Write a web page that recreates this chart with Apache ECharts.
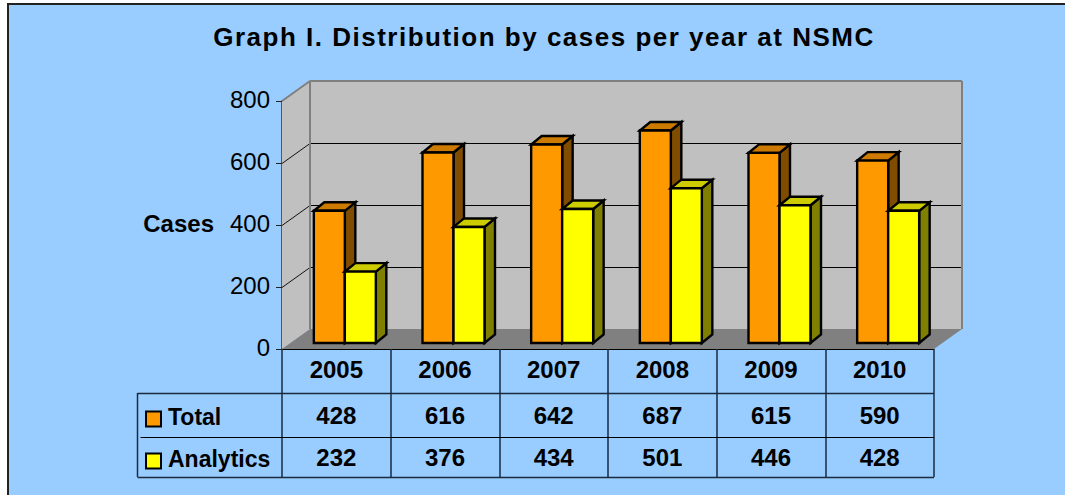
<!DOCTYPE html>
<html>
<head>
<meta charset="utf-8">
<style>
html,body{margin:0;padding:0;background:#fff}
#c{width:1065px;height:495px}
#c svg text[style*="26px"]{letter-spacing:1.5px}
</style>
<script src="https://cdn.jsdelivr.net/npm/echarts@6/dist/echarts.min.js"></script>
</head>
<body>
<div id="c"></div>
<script>
var titleText = 'Graph I. Distribution by cases per year at NSMC';
var yAxisName = 'Cases';
var years = ['2005','2006','2007','2008','2009','2010'];
var total = [428,616,642,687,615,590];
var analytics = [232,376,434,501,446,428];
var yTicks = [0,200,400,600,800];
var FONT = '"Liberation Sans", Arial, sans-serif';

var DEPTH_X = 28, DEPTH_Y = 20;     // projected depth of the floor
var BAR_SHIFT_X = 8.5, BAR_SHIFT_Y = 6; // bars sit a little behind the front edge
var BAR_W = 31, BAR_DX = 10.5, BAR_DY = 8.5;
var ROW_TOP = 393, ROW_MID = 437, ROW_BOTTOM = 477, TABLE_LEFT = 137.5;

function poly(points, fill, stroke, lw) {
  return {type:'polygon', shape:{points:points}, style:{fill:fill, stroke:stroke||null, lineWidth:lw||0, lineJoin:'miter'}};
}
function seg(x1,y1,x2,y2,color,lw) {
  return {type:'line', shape:{x1:x1,y1:y1,x2:x2,y2:y2}, style:{stroke:color, lineWidth:lw||1}};
}
function renderWalls(params, api) {
  var g = params.coordSys, L = g.x, R = g.x + g.width, T = g.y, B = g.y + g.height;
  var c = [
    poly([[L,B],[L+DEPTH_X,B-DEPTH_Y],[L+DEPTH_X,T-DEPTH_Y],[L,T]], '#C0C0C0'),
    poly([[L+DEPTH_X,B-DEPTH_Y],[R+DEPTH_X,B-DEPTH_Y],[R+DEPTH_X,T-DEPTH_Y],[L+DEPTH_X,T-DEPTH_Y]], '#C0C0C0')
  ];
  yTicks.forEach(function (v) {
    if (v === 0 || v === 800) return;
    var y = Math.round(api.coord([0, v])[1]) + 0.5;
    c.push(seg(L,y,L+DEPTH_X,y-DEPTH_Y,'#111',1));
    c.push(seg(L+DEPTH_X,y-DEPTH_Y,R+DEPTH_X,y-DEPTH_Y,'#000',1));
  });
  c.push(poly([[L,B],[R,B],[R+DEPTH_X,B-DEPTH_Y],[L+DEPTH_X,B-DEPTH_Y]], '#808080'));
  c.push(seg(L+DEPTH_X,B-DEPTH_Y,L+DEPTH_X,T-DEPTH_Y,'#808080',2));
  c.push(seg(L+DEPTH_X,T-DEPTH_Y,R+DEPTH_X,T-DEPTH_Y,'#808080',2));
  c.push(seg(R+DEPTH_X,T-DEPTH_Y,R+DEPTH_X,B-DEPTH_Y,'#808080',2));
  c.push(seg(L,T,L+DEPTH_X,T-DEPTH_Y,'#808080',2));
  return {type:'group', children:c};
}
function barRenderer(offsetIndex, front, top, side) {
  return function (params, api) {
    var base = api.coord([api.value(0), 0]);
    var head = api.coord([api.value(0), api.value(1)]);
    var x0 = base[0] + BAR_SHIFT_X + offsetIndex * BAR_W, x1 = x0 + BAR_W;
    var y0 = base[1] - BAR_SHIFT_Y, y1 = head[1] - BAR_SHIFT_Y + 0.5;
    return {type:'group', children:[
      poly([[x1,y0],[x1+BAR_DX,y0-BAR_DY],[x1+BAR_DX,y1-BAR_DY],[x1,y1]], side, '#000', 2.4),
      poly([[x0,y1],[x1,y1],[x1+BAR_DX,y1-BAR_DY],[x0+BAR_DX,y1-BAR_DY]], top, '#000', 2.4),
      poly([[x0,y0],[x1,y0],[x1,y1],[x0,y1]], front, '#000', 2.4)
    ]};
  };
}
function renderTable(params, api) {
  var i = api.value(0), x = api.coord([i, 0])[0];
  var g = params.coordSys, R = g.x + g.width;
  var font = 'bold 24px ' + FONT;
  function t(s, y) {
    return {type:'text', style:{text:String(s), x:x, y:y, align:'center', verticalAlign:'middle', font:font, fill:'#000'}};
  }
  var c = [t(years[i],369.5), t(total[i],415.5), t(analytics[i],457.5)];
  if (i === 0) {
    c.push(seg(TABLE_LEFT,ROW_TOP+.5,R,ROW_TOP+.5,'#1a2a40',1.5));
    c.push(seg(TABLE_LEFT+3,ROW_MID+.5,R,ROW_MID+.5,'#000',1));
    c.push(seg(TABLE_LEFT,ROW_BOTTOM+.5,R,ROW_BOTTOM+.5,'#1a2a40',1.5));
    c.push(seg(TABLE_LEFT,ROW_TOP,TABLE_LEFT,ROW_BOTTOM,'#1a2a40',1.5));
  }
  return {type:'group', children:c};
}
function pairs(arr){ return arr.map(function(v,i){return [i,v];}); }

var chart = echarts.init(document.getElementById('c'), null, {renderer:'svg'});
chart.setOption({
  animation:false,
  backgroundColor:'#fff',
  graphic:[{type:'rect', z:-10, silent:true, shape:{x:8,y:4,width:1200,height:700},
    style:{fill:'#99CCFF', stroke:'#222', lineWidth:2}}],
  title:{text:titleText, left:539, top:19, textAlign:'center',
    textStyle:{fontFamily:FONT, fontWeight:'bold', fontSize:26, color:'#000'}},
  legend:{orient:'vertical', left:145, top:405, itemWidth:15, itemHeight:15, itemGap:19, padding:0,
    selectedMode:false, data:['Total','Analytics'], icon:'rect',
    itemStyle:{borderColor:'#000', borderWidth:2},
    formatter:'{n|{name}}',
    textStyle:{fontFamily:FONT, fontWeight:'bold', fontSize:23, color:'#000',
      rich:{n:{fontFamily:FONT, fontWeight:'bold', fontSize:23, color:'#000', padding:[0,0,5,2]}}}},
  grid:{left:282, top:101, width:652, height:248, containLabel:false},
  xAxis:{type:'category', data:years, boundaryGap:true,
    axisLine:{show:true, onZero:false, lineStyle:{color:'#000', width:1}},
    axisTick:{show:true, length:128, lineStyle:{color:'#1a2a40', width:1.5}},
    axisLabel:{show:false}, splitLine:{show:false}},
  yAxis:{type:'value', min:0, max:800, interval:200,
    name:'{b|' + yAxisName + '}', nameLocation:'middle', nameRotate:0, nameGap:68,
    nameTextStyle:{fontFamily:FONT, fontWeight:'bold', fontSize:24, color:'#000',
      rich:{b:{fontFamily:FONT, fontWeight:'bold', fontSize:24, color:'#000', padding:[0,0,4,0]}}},
    axisLine:{show:true, lineStyle:{color:'#333', width:1.5}},
    axisTick:{show:true, length:6, lineStyle:{color:'#222', width:1}},
    axisLabel:{fontFamily:FONT, fontSize:24, color:'#000', margin:12, formatter:'{a|{value}}',
      rich:{a:{fontFamily:FONT, fontSize:24, color:'#000', padding:[0,0,4,0]}}},
    splitLine:{show:false}},
  series:[
    {type:'custom', name:'walls', z:1, coordinateSystem:'cartesian2d', data:[[0,0]], renderItem:renderWalls, silent:true},
    {type:'custom', name:'Total', z:2, coordinateSystem:'cartesian2d', data:pairs(total),
      itemStyle:{color:'#FF9900'}, renderItem:barRenderer(-1,'#FF9900','#CC7A00','#804D00')},
    {type:'custom', name:'Analytics', z:3, coordinateSystem:'cartesian2d', data:pairs(analytics),
      itemStyle:{color:'#FFFF00'}, renderItem:barRenderer(0,'#FFFF00','#CCCC00','#808000')},
    {type:'custom', name:'table', z:4, coordinateSystem:'cartesian2d', data:pairs(total), renderItem:renderTable, silent:true}
  ]
});
</script>
</body>
</html>
